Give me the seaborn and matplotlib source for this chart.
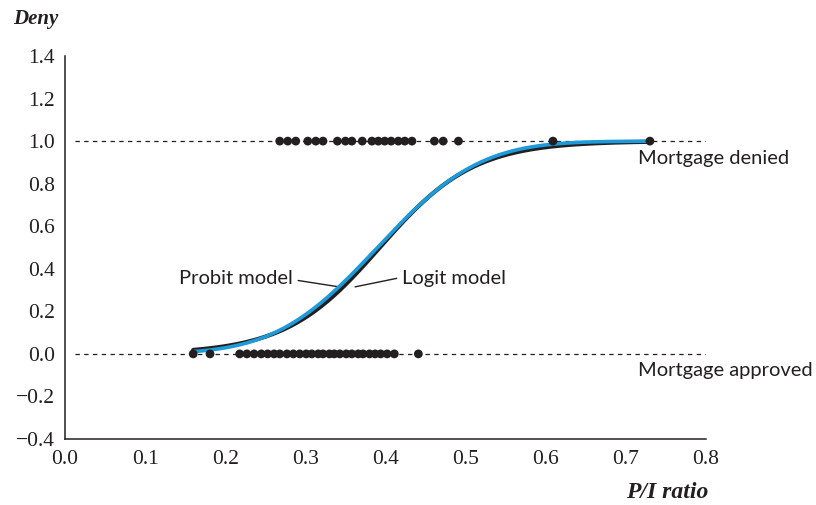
import numpy as np
import pandas as pd
import matplotlib
matplotlib.use("Agg")
import matplotlib.pyplot as plt
import seaborn as sns
from math import erf

# ---- data ----
denied_x = [0.268, 0.278, 0.288, 0.303, 0.313, 0.322, 0.340, 0.350, 0.358, 0.371,
            0.383, 0.391, 0.399, 0.407, 0.416, 0.424, 0.433, 0.461, 0.472, 0.491,
            0.609, 0.730]
approved_x = [0.160, 0.181, 0.218, 0.227, 0.236, 0.245, 0.253, 0.261, 0.268, 0.277,
              0.285, 0.293, 0.301, 0.308, 0.316, 0.322, 0.330, 0.336, 0.343, 0.351,
              0.358, 0.366, 0.372, 0.380, 0.387, 0.394, 0.402, 0.411, 0.441]
probit_coef = (-3.90, 10.0)     # Pr = Phi(b0 + b1 * P/I)
logit_coef = (-6.68, 17.0)      # Pr = 1/(1+exp(-(b0 + b1 * P/I)))
curve_range = (0.16, 0.73)
x_ticks = [0.0, 0.1, 0.2, 0.3, 0.4, 0.5, 0.6, 0.7, 0.8]
y_ticks = [-0.4, -0.2, 0.0, 0.2, 0.4, 0.6, 0.8, 1.0, 1.2, 1.4]

sns.set_style("white")
plt.rcParams['font.family'] = ['Lato', 'DejaVu Sans']

fig = plt.figure(figsize=(8.16, 5.05), dpi=100)
ax = fig.add_axes([65/816, 1-439/505, (706-65)/816, (439-56)/505])

# dashed reference lines
ax.plot([0.012, 0.8], [1, 1], ls=(0, (3.5, 3.5)), color="#231f20", lw=0.9, zorder=1)
ax.plot([0.012, 0.8], [0, 0], ls=(0, (3.5, 3.5)), color="#231f20", lw=0.9, zorder=1)

xs = np.linspace(curve_range[0], curve_range[1], 300)
phi = np.vectorize(lambda z: 0.5 * (1 + erf(z / np.sqrt(2))))
curves = pd.DataFrame({
    "x": np.concatenate([xs, xs]),
    "y": np.concatenate([phi(probit_coef[0] + probit_coef[1] * xs),
                         1 / (1 + np.exp(-(logit_coef[0] + logit_coef[1] * xs)))]),
    "model": ["Probit"] * len(xs) + ["Logit"] * len(xs),
})
sns.lineplot(data=curves[curves.model == "Logit"], x="x", y="y", color="#231f20",
             lw=3.0, ax=ax, zorder=3)
sns.lineplot(data=curves[curves.model == "Probit"], x="x", y="y", color="#1c9ad9",
             lw=2.6, ax=ax, zorder=4)

pts = pd.DataFrame({"x": denied_x + approved_x,
                    "y": [1.0] * len(denied_x) + [0.0] * len(approved_x)})
sns.scatterplot(data=pts, x="x", y="y", color="#231f20", s=40, edgecolor="none",
                ax=ax, zorder=5)

ax.set_xlim(0, 0.8)
ax.set_ylim(-0.4, 1.4)
ax.set_xticks(x_ticks)
ax.set_yticks(y_ticks)
ax.set_xticklabels([f"{t:.1f}" for t in x_ticks], family="Liberation Serif", fontsize=15.5, color="#231f20")
ax.set_yticklabels([f"{t:.1f}".replace("-", "\u2212") for t in y_ticks], family="Liberation Serif", fontsize=15.5, color="#231f20")
ax.tick_params(direction="in", length=6, width=1, color="#231f20", pad=7)
ax.tick_params(axis="x", pad=8)
for s in ["top", "right"]:
    ax.spines[s].set_visible(False)
for s in ["left", "bottom"]:
    ax.spines[s].set_color("#231f20")
    ax.spines[s].set_linewidth(1.1)
ax.set_xlabel("")
ax.set_ylabel("")

fig.text(13/816, 1-19/505, "Deny", family="Liberation Serif", fontsize=15,
         fontweight="bold", style="italic", va="center", ha="left", color="#231f20")
fig.text(708/816, 1-492/505, "P/I ratio", family="Liberation Serif", fontsize=17,
         fontweight="bold", style="italic", va="center", ha="right", color="#231f20")

ax.text(0.715, 0.96, "Mortgage denied", fontsize=14.5, va="top", ha="left", color="#231f20")
ax.text(0.715, -0.04, "Mortgage approved", fontsize=14.5, va="top", ha="left", color="#231f20")

ax.text(0.284, 0.355, "Probit model", fontsize=14.5, va="center", ha="right", color="#231f20")
ax.plot([0.291, 0.342], [0.345, 0.315], color="#231f20", lw=1.0)
ax.text(0.421, 0.355, "Logit model", fontsize=14.5, va="center", ha="left", color="#231f20")
ax.plot([0.414, 0.362], [0.355, 0.315], color="#231f20", lw=1.0)

fig.savefig("out.png", dpi=100)
